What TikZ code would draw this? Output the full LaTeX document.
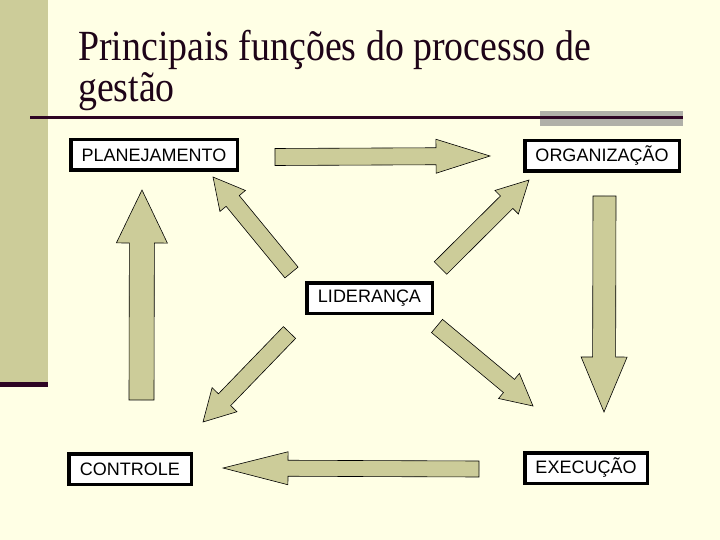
\documentclass[tikz,border=0pt]{standalone}
\usepackage{fontspec}
\setmainfont{Liberation Serif}
\newfontfamily\arialfont{Liberation Sans}
\usetikzlibrary{calc}
\definecolor{bgcream}{HTML}{FFFFE5}
\definecolor{khaki}{HTML}{CCCC99}
\definecolor{darkline}{HTML}{2E0524}
\definecolor{graybar}{HTML}{B0B0A8}
\definecolor{titlecol}{HTML}{1E0418}
\tikzset{
  box/.style={draw=black, line width=3.5pt, fill=white, rectangle, inner xsep=5pt, inner ysep=0pt,
    minimum height=30.5pt, align=left, anchor=north west, font=\arialfont\fontsize{18}{20}\selectfont},
  blockarr/.style={draw=black, line width=0.6pt, fill=khaki, line join=miter},
  titletext/.style={anchor=base west, inner sep=0pt, text=titlecol, xscale=0.88, font=\fontsize{43}{46}\selectfont}
}
% #1 tail, #2 tip, #3 shaft half width, #4 head half width, #5 head length
\newcommand\blockarrow[5]{%
  \coordinate (ba-t) at #1;
  \coordinate (ba-h) at #2;
  \coordinate (ba-b) at ($(ba-h)!#5!(ba-t)$);
  \draw[blockarr] ($(ba-t)!#3!90:(ba-h)$) -- ($(ba-b)!#3!-90:(ba-t)$) -- ($(ba-b)!#4!-90:(ba-t)$)
    -- (ba-h) -- ($(ba-b)!#4!90:(ba-t)$) -- ($(ba-b)!#3!90:(ba-t)$) -- ($(ba-t)!#3!-90:(ba-h)$) -- cycle;
}
\begin{document}
\begin{tikzpicture}[x=1pt,y=-1pt]
\useasboundingbox (0,0) rectangle (720,540);
\fill[bgcream] (0,0) rectangle (720,540);
% left band
\fill[khaki] (0,0) rectangle (48,382);
\fill[darkline] (0,382) rectangle (48,387);
% title
\node[titletext] (t1) at (78,61) {Principais funções do processo de};
\node[titletext] (t2) at (78,102) {gestão};
% rule
\fill[graybar] (540,111) rectangle (683,126);
\fill[darkline] (30,116) rectangle (683,119.5);
% boxes
\node[box, minimum width=166.5pt] (plan) at (69,138) {PLANEJAMENTO};
\node[box, minimum width=154.5pt] (org) at (523,139) {ORGANIZAÇÃO};
\node[box, minimum width=125.5pt] (lid) at (305,281) {LIDERANÇA};
\node[box, minimum width=122.5pt] (ctl) at (67,452) {CONTROLE};
\node[box, minimum width=122.5pt] (exe) at (523,451) {EXECUÇÃO};
% arrows
\blockarrow{(275,157)}{(490,156)}{8.5pt}{17pt}{54pt}
\blockarrow{(291.5,272.5)}{(213,177)}{8.5pt}{16.5pt}{31pt}
\blockarrow{(440.5,268)}{(529,180)}{8.8pt}{16.6pt}{31.5pt}
\blockarrow{(604.5,196)}{(604,412)}{11.5pt}{23pt}{55pt}
\blockarrow{(437,326)}{(533,406)}{8.6pt}{16.3pt}{31.3pt}
\blockarrow{(479,469)}{(223,468)}{8pt}{16.5pt}{65pt}
\blockarrow{(289.5,332.5)}{(203,422)}{8.5pt}{17.3pt}{31pt}
\blockarrow{(141.5,400)}{(142,190)}{12.5pt}{25.5pt}{53pt}
\end{tikzpicture}
\end{document}
